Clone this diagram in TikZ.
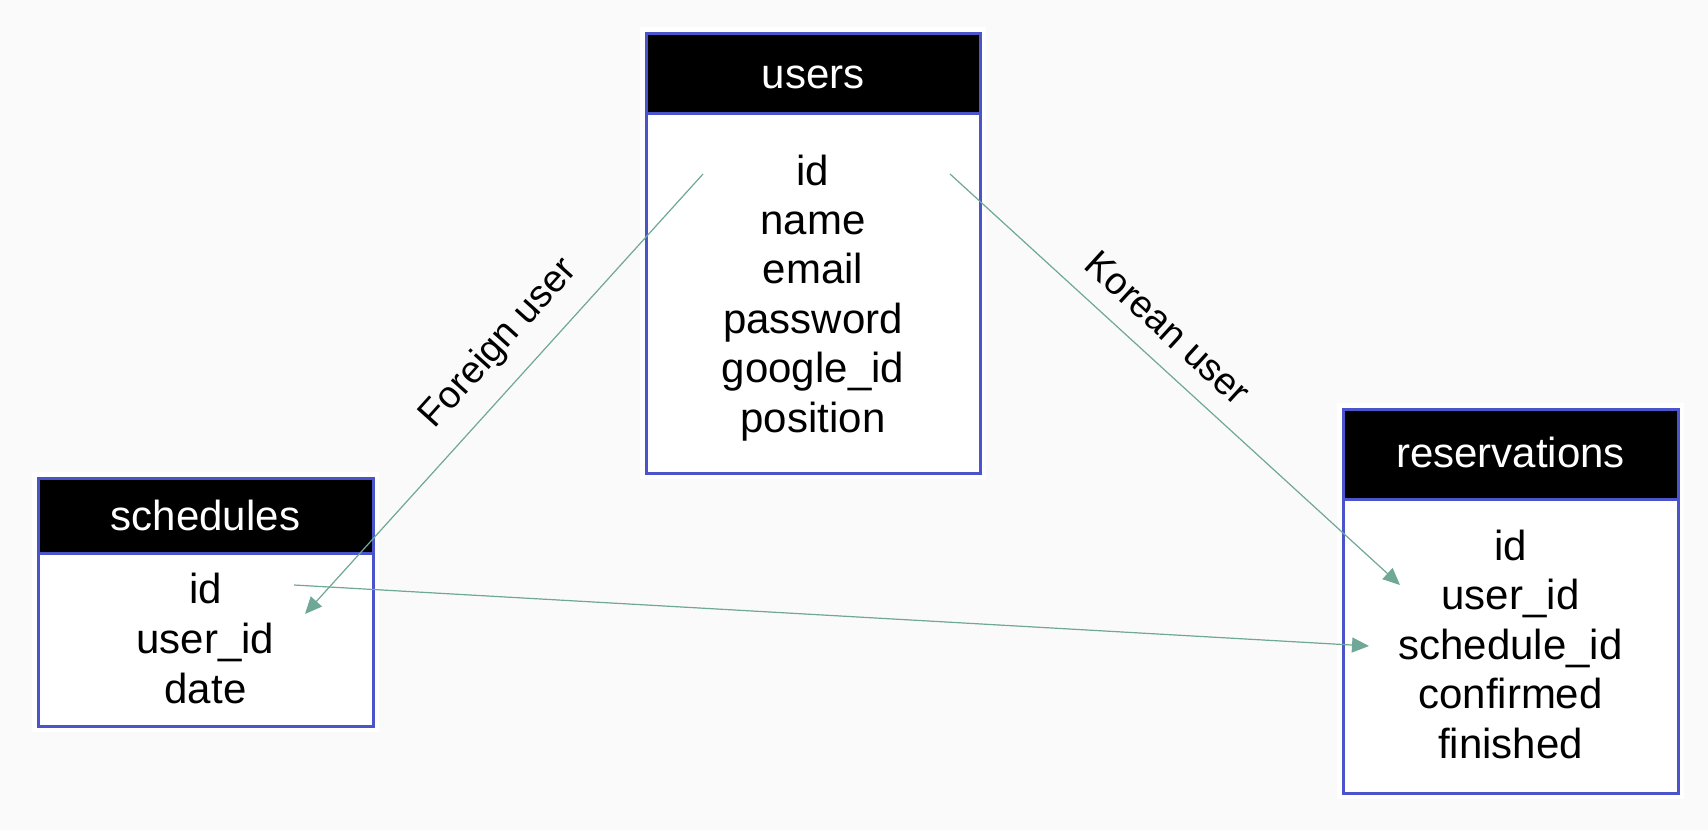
\documentclass[tikz,border=0pt]{standalone}
\usepackage{fontspec}
\setmainfont{Liberation Sans}
\usetikzlibrary{arrows.meta}
\definecolor{bg}{RGB}{250,250,250}
\definecolor{bordblue}{RGB}{76,84,204}
\definecolor{linkteal}{RGB}{112,168,152}
\begin{document}
\begin{tikzpicture}[x=1pt,y=-1pt,
  pad/.style={fill=white,draw=none,inner sep=0pt,outer sep=0pt,anchor=north west},
  headbox/.style={fill=black,draw=bordblue,line width=3pt,inner sep=0pt,outer sep=0pt,anchor=north west},
  bodybox/.style={draw=bordblue,line width=3pt,inner sep=0pt,outer sep=0pt,anchor=north west},
  rowtext/.style={anchor=base,inner sep=0pt,font=\fontsize{42}{50}\selectfont},
  headtext/.style={rowtext,text=white},
  linklabel/.style={inner sep=0pt,font=\fontsize{38}{46}\selectfont},
  link/.style={draw=linkteal,line width=1.2pt,-{Triangle[length=17pt,width=15pt]},fill=linkteal}
]
% background
\fill[bg] (0,0) rectangle (1708,830);
\useasboundingbox (0,0) rectangle (1708,830);

% ---------- users ----------
\node[pad,minimum width=346pt,minimum height=452pt] (userspad) at (640,27) {};
\node[headbox,minimum width=334pt,minimum height=80pt] (usershead) at (646,33) {};
\node[bodybox,minimum width=334pt,minimum height=440pt] (users) at (646,33) {};
\node[headtext] (usersname) at (813,88) {users};
\node[rowtext] (u1) at (813,185) {id};
\node[rowtext] (u2) at (813,234.4) {name};
\node[rowtext] (u3) at (813,283.8) {email};
\node[rowtext] (u4) at (813,333.2) {password};
\node[rowtext] (u5) at (813,382.6) {google\_id};
\node[rowtext] (u6) at (813,432) {position};

% ---------- schedules ----------
\node[pad,minimum width=347pt,minimum height=260pt] (schedpad) at (32,472) {};
\node[headbox,minimum width=335pt,minimum height=75pt] (schedhead) at (38,478) {};
\node[bodybox,minimum width=335pt,minimum height=248pt] (sched) at (38,478) {};
\node[headtext] (schedname) at (205.5,530) {schedules};
\node[rowtext] (s1) at (205.5,603) {id};
\node[rowtext] (s2) at (205.5,653) {user\_id};
\node[rowtext] (s3) at (205.5,703) {date};

% ---------- reservations ----------
\node[pad,minimum width=347pt,minimum height=396pt] (respad) at (1337,403) {};
\node[headbox,minimum width=335pt,minimum height=90pt] (reshead) at (1343,409) {};
\node[bodybox,minimum width=335pt,minimum height=384pt] (res) at (1343,409) {};
\node[headtext] (resname) at (1510.5,467) {reservations};
\node[rowtext] (r1) at (1510.5,560) {id};
\node[rowtext] (r2) at (1510.5,609.5) {user\_id};
\node[rowtext] (r3) at (1510.5,659) {schedule\_id};
\node[rowtext] (r4) at (1510.5,708.5) {confirmed};
\node[rowtext] (r5) at (1510.5,758) {finished};

% ---------- connector end points ----------
\coordinate (fuStart) at (703,174);
\coordinate (fuEnd) at (305,614);
\coordinate (kuStart) at (950,174);
\coordinate (kuEnd) at (1400,585);
\coordinate (scStart) at (294,585);
\coordinate (scEnd) at (1369,646);

% ---------- connectors ----------
\draw[link] (fuStart) -- (fuEnd);
\draw[link] (kuStart) -- (kuEnd);
\draw[link] (scStart) -- (scEnd);

% ---------- labels ----------
\node[linklabel,rotate=48] (fulabel) at (499,344) {Foreign user};
\node[linklabel,rotate=-42.4] (kulabel) at (1168,328) {Korean user};
\end{tikzpicture}
\end{document}
